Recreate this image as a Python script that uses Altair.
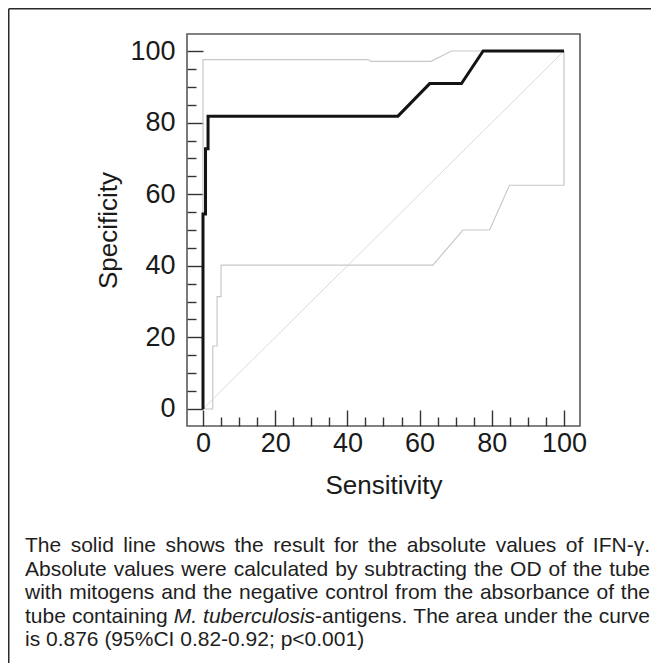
import altair as alt
import pandas as pd

# ---------------- data ----------------
roc_sens = [0, 0, 0.7, 0.7, 1.4, 1.4, 54.0, 62.8, 71.6, 77.6, 100]
roc_spec = [0, 54.5, 54.5, 72.7, 72.7, 81.8, 81.8, 90.9, 90.9, 100, 100]

upper_sens = [0, 0, 45.7, 46.5, 63.2, 68.8, 100]
upper_spec = [0, 97.6, 97.6, 97.1, 97.1, 100, 100]

lower_sens = [0, 2.7, 2.7, 3.9, 3.9, 5.0, 5.0, 63.7, 72.0, 79.4, 84.9, 100, 100]
lower_spec = [0, 0, 17.6, 17.6, 31.4, 31.4, 40.2, 40.2, 50.0, 50.0, 62.5, 62.5, 100]

diag_sens = [0, 100]
diag_spec = [0, 100]

major_ticks = [0, 20, 40, 60, 80, 100]
minor_ticks = [5, 10, 15, 25, 30, 35, 45, 50, 55, 65, 70, 75, 85, 90, 95]

x_title = "Sensitivity"
y_title = "Specificity"

caption_lines = [
    "The solid line shows the result for the absolute values of IFN-γ.",
    "Absolute values were calculated by subtracting the OD of the tube",
    "with mitogens and the negative control from the absorbance of the",
    "tube containing *M. tuberculosis*-antigens. The area under the curve",
    "is 0.876 (95%CI 0.82-0.92; p<0.001)",
]
caption_justified = [True, True, True, True, False]

# ---------------- layout / style ----------------
FONT = "Liberation Sans"
PW, PH = 393, 392
CAP_FS = 21
CAP_LEFT, CAP_RIGHT = -162, 463
CAP_BASE = [518, 541.5, 565, 588.5, 612]

# Arial / Liberation Sans advance widths (per 1000 em)
AW = {' ': 278, '(': 333, ')': 333, '%': 889, '-': 333, '.': 278, ';': 278, '<': 584,
      'A': 667, 'B': 667, 'C': 722, 'D': 722, 'E': 667, 'F': 611, 'G': 778, 'H': 722,
      'I': 278, 'J': 500, 'K': 667, 'L': 556, 'M': 833, 'N': 722, 'O': 778, 'P': 667,
      'Q': 778, 'R': 722, 'S': 667, 'T': 611, 'U': 722, 'V': 667, 'W': 944, 'X': 667,
      'Y': 667, 'Z': 611, 'a': 556, 'b': 556, 'c': 500, 'd': 556, 'e': 556, 'f': 278,
      'g': 556, 'h': 556, 'i': 222, 'j': 222, 'k': 500, 'l': 222, 'm': 833, 'n': 556,
      'o': 556, 'p': 556, 'q': 556, 'r': 333, 's': 500, 't': 278, 'u': 556, 'v': 500,
      'w': 722, 'x': 500, 'y': 500, 'z': 500, 'γ': 500}


def text_w(s):
    return sum(AW.get(c, 556) for c in s) * CAP_FS / 1000.0


def parse_runs(word):
    runs, italic, buf = [], False, ""
    for ch in word:
        if ch == "*":
            if buf:
                runs.append((buf, italic))
            buf, italic = "", not italic
        else:
            buf += ch
    if buf:
        runs.append((buf, italic))
    return runs


rows = []
italic_state = False
for li, line in enumerate(caption_lines):
    words = line.split(" ")
    word_runs = []
    for w in words:
        # carry italic state across words
        runs, buf = [], ""
        for ch in w:
            if ch == "*":
                if buf:
                    runs.append((buf, italic_state))
                buf, italic_state = "", not italic_state
            else:
                buf += ch
        if buf:
            runs.append((buf, italic_state))
        word_runs.append(runs)
    widths = [sum(text_w(t) for t, _ in r) for r in word_runs]
    if caption_justified[li] and len(words) > 1:
        gap = (CAP_RIGHT - CAP_LEFT - sum(widths)) / (len(words) - 1)
    else:
        gap = text_w(" ")
    x = CAP_LEFT
    for r, wd in zip(word_runs, widths):
        xx = x
        for t, it in r:
            rows.append({"t": t, "px": xx, "py": CAP_BASE[li], "it": it})
            xx += text_w(t)
        x += wd + gap

cap_df = pd.DataFrame(rows)


def line_df(xs, ys):
    return pd.DataFrame({"x": xs, "y": ys, "o": list(range(len(xs)))})


xscale = alt.Scale(domain=[-4.43, 104.43], nice=False, zero=False)
yscale = alt.Scale(domain=[-4.75, 104.75], nice=False, zero=False)

tick_style = dict(domain=False, grid=False, tickColor="#333333", tickWidth=1.4)

x_major = alt.Axis(orient="bottom", values=major_ticks, tickSize=16, offset=-16,
                   labelFont=FONT, labelFontSize=27, labelColor="#1a1a1a",
                   labelPadding=4, labelFlush=False,
                   title=x_title, titleFont=FONT, titleFontSize=26,
                   titleFontWeight="normal", titleColor="#1a1a1a", titlePadding=16,
                   **tick_style)
x_minor = alt.Axis(orient="bottom", values=minor_ticks, tickSize=9, offset=-9,
                   labels=False, title=None, **tick_style)
y_major = alt.Axis(orient="left", values=major_ticks, tickSize=16, offset=-16,
                   labelFont=FONT, labelFontSize=27, labelColor="#1a1a1a",
                   labelPadding=12, labelFlush=False,
                   title=y_title, titleFont=FONT, titleFontSize=26,
                   titleFontWeight="normal", titleColor="#1a1a1a", titlePadding=8,
                   **tick_style)
y_minor = alt.Axis(orient="left", values=minor_ticks, tickSize=9, offset=-9,
                   labels=False, title=None, **tick_style)

diag = alt.Chart(line_df(diag_sens, diag_spec)).mark_line(
    color="#dadada", strokeWidth=1).encode(
    x=alt.X("x:Q", scale=xscale, axis=x_minor),
    y=alt.Y("y:Q", scale=yscale, axis=y_minor),
    order="o:Q")

upper = alt.Chart(line_df(upper_sens, upper_spec)).mark_line(
    color="#c8c8c8", strokeWidth=1.2).encode(
    x=alt.X("x:Q", scale=xscale, axis=None),
    y=alt.Y("y:Q", scale=yscale, axis=None),
    order="o:Q")

lower = alt.Chart(line_df(lower_sens, lower_spec)).mark_line(
    color="#c8c8c8", strokeWidth=1.2).encode(
    x=alt.X("x:Q", scale=xscale, axis=None),
    y=alt.Y("y:Q", scale=yscale, axis=None),
    order="o:Q")

roc = alt.Chart(line_df(roc_sens, roc_spec)).mark_line(
    color="#141414", strokeWidth=3, strokeJoin="miter").encode(
    x=alt.X("x:Q", scale=xscale, axis=x_major),
    y=alt.Y("y:Q", scale=yscale, axis=y_major),
    order="o:Q")

plot = alt.layer(diag, upper, lower, roc).resolve_axis(x="independent", y="independent")

cap_reg = alt.Chart(cap_df[~cap_df["it"]]).mark_text(
    align="left", baseline="alphabetic", font=FONT, fontSize=CAP_FS, color="#1e1e1e").encode(
    x=alt.X("px:Q", scale=None, axis=None),
    y=alt.Y("py:Q", scale=None, axis=None),
    text="t:N")

cap_it = alt.Chart(cap_df[cap_df["it"]]).mark_text(
    align="left", baseline="alphabetic", font=FONT, fontSize=CAP_FS, fontStyle="italic",
    color="#1e1e1e").encode(
    x=alt.X("px:Q", scale=None, axis=None),
    y=alt.Y("py:Q", scale=None, axis=None),
    text="t:N")

one = pd.DataFrame({"k": [0]})
border_left = alt.Chart(one).mark_rule(color="#2a2a2a", strokeWidth=1.5).encode(
    x=alt.value(-178.25), y=alt.value(-25.25), y2=alt.value(700))
border_top = alt.Chart(one).mark_rule(color="#2a2a2a", strokeWidth=1.5).encode(
    x=alt.value(-178.25), x2=alt.value(700), y=alt.value(-25.25))

chart = alt.layer(plot, cap_reg, cap_it, border_left, border_top).resolve_scale(
    x="independent", y="independent").properties(
    width=PW, height=PH,
    autosize=alt.AutoSizeParams(type="none"),
    padding={"left": 179, "top": 26, "right": 71, "bottom": 237},
    background="white",
).configure_view(stroke="#5a5a5a", strokeWidth=1.6)

chart.save("out.html", embed_options={"renderer": "svg", "actions": False})
